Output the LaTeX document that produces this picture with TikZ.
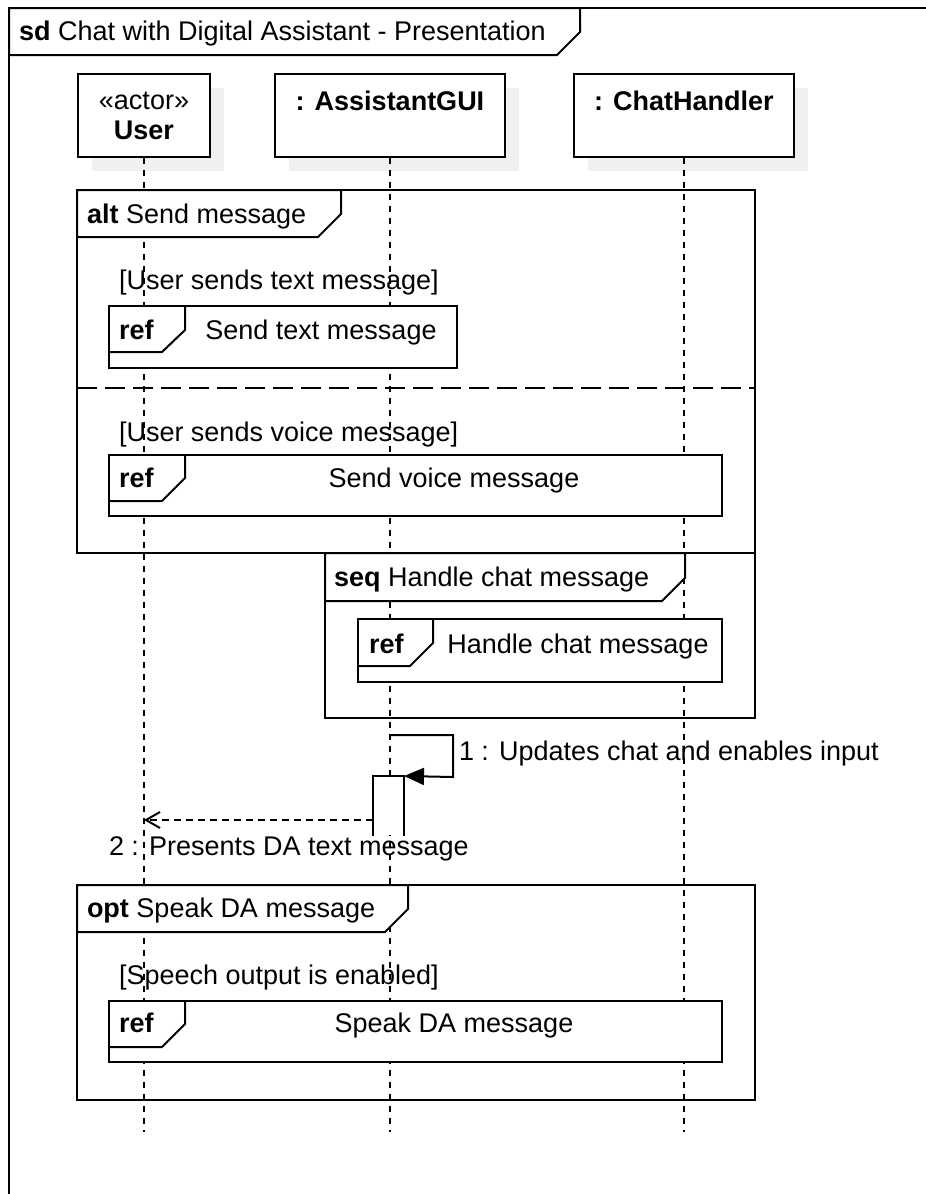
\documentclass[tikz,border=0pt]{standalone}
\usepackage{fontspec}
\setmainfont{Liberation Sans}
\usetikzlibrary{positioning, arrows.meta, shadows}

\begin{document}
\begin{tikzpicture}[x=0.5pt, y=-0.5pt, line width=1pt, font=\fontsize{13.5}{15}\selectfont,
    head/.style={draw, fill=white, align=center, minimum height=41.5pt,
        general shadow={fill=gray!12, shadow xshift=7pt, shadow yshift=-7pt}},
    lifeline/.style={line width=0.8pt, dash pattern=on 3pt off 3pt},
    tabshape/.style={draw, fill=white},
    reffrm/.style={draw, fill=white, inner sep=0pt},
    txt/.style={inner sep=0pt, anchor=base west},
    refname/.style={inner sep=0pt, anchor=base},
    actbar/.style={fill=white, inner sep=0pt, minimum width=14.5pt, minimum height=29pt},
    msg/.style={-{Triangle[length=10pt, width=8.5pt]}},
    reply/.style={dash pattern=on 3.5pt off 2.5pt, -{Straight Barb[length=7pt, width=8pt]}}]

\useasboundingbox (0,0) rectangle (926,1194);

% frame sd
\draw (926,8) -- (9,8) -- (9,1194);
\draw[tabshape] (9,8) -- (580,8) -- (580,32) -- (557,55) -- (9,55) -- cycle;
\node[txt] (sdtab) at (18,40.5) {\textbf{sd} Chat with Digital Assistant - Presentation};

% lifeline heads
\node[head, minimum width=66pt] (user) at (144,115.5) {«actor»\\\textbf{User}};
\node[head, minimum width=115pt] (gui) at (390,115.5) {\textbf{: AssistantGUI}\\\mbox{}};
\node[head, minimum width=110pt] (chat) at (684,115.5) {\textbf{: ChatHandler}\\\mbox{}};

\coordinate (userend) at (144,1132);
\coordinate (guiend) at (390,1132);
\coordinate (chatend) at (684,1132);
\draw[lifeline] (user) -- (userend);
\draw[lifeline] (gui) -- (guiend);
\draw[lifeline] (chat) -- (chatend);

% alt
\draw (77,190) rectangle (755,553);
\draw[tabshape] (77,190) -- (341,190) -- (341,214) -- (318,237) -- (77,237) -- cycle;
\node[txt] (alttab) at (86,223.5) {\textbf{alt} Send message};
\node[txt] (guard1) at (118,289.5) {[User sends text message]};
\node[reffrm, minimum width=174pt, minimum height=31pt] (ref1) at (283,337) {};
\draw (ref1.north west) ++(77,0) -- ++(0,25) -- ++(-23,22) -- ++(-54,0);
\node[txt] (ref1kw) at (118,339.5) {\textbf{ref}};
\node[refname] (ref1name) at (321,339.5) {Send text message};

\draw[dash pattern=on 10pt off 4pt] (77,388) -- (755,388);

\node[txt] (guard2) at (118,441.5) {[User sends voice message]};
\node[reffrm, minimum width=306.5pt, minimum height=30.5pt] (ref2) at (415.5,485.5) {};
\draw (ref2.north west) ++(77,0) -- ++(0,24) -- ++(-23,23) -- ++(-54,0);
\node[txt] (ref2kw) at (118,487.5) {\textbf{ref}};
\node[refname] (ref2name) at (454,487.5) {Send voice message};

% seq
\draw (325,553) rectangle (755,718);
\draw[tabshape] (325,553) -- (685,553) -- (685,578) -- (662,601) -- (325,601) -- cycle;
\node[txt] (seqtab) at (333,586.5) {\textbf{seq} Handle chat message};
\node[reffrm, minimum width=182pt, minimum height=31.5pt] (ref3) at (540,650.5) {};
\draw (ref3.north west) ++(76,0) -- ++(0,25) -- ++(-23,23) -- ++(-53,0);
\node[txt] (ref3kw) at (368,653) {\textbf{ref}};
\node[refname] (ref3name) at (578,653) {Handle chat message};

% messages
\coordinate (m1) at (390,735);
\node[actbar] (act) at (388.5,806) {};
\draw[msg] (m1) -- ++(63,0) -- ++(0,42) -- (act.north east);
\draw (act.south west) -- (act.north west) -- (act.north east) -- (act.south east);
\node[txt] (m1lbl) at (458,760.5) {1 : Updates chat and enables input};

\coordinate (m2) at (144,820);
\draw[reply] (act.west |- m2) -- (m2);
\node[txt] (m2lbl) at (108,855.5) {2 : Presents DA text message};

% opt
\draw (77,885) rectangle (755,1100);
\draw[tabshape] (77,885) -- (408,885) -- (408,909) -- (385,932) -- (77,932) -- cycle;
\node[txt] (opttab) at (86,917.5) {\textbf{opt} Speak DA message};
\node[txt] (guard3) at (118,984.5) {[Speech output is enabled]};
\node[reffrm, minimum width=306.5pt, minimum height=30.5pt] (ref4) at (415.5,1031.5) {};
\draw (ref4.north west) ++(77,0) -- ++(0,24) -- ++(-23,23) -- ++(-54,0);
\node[txt] (ref4kw) at (118,1032.5) {\textbf{ref}};
\node[refname] (ref4name) at (454,1032.5) {Speak DA message};
\end{tikzpicture}
\end{document}
